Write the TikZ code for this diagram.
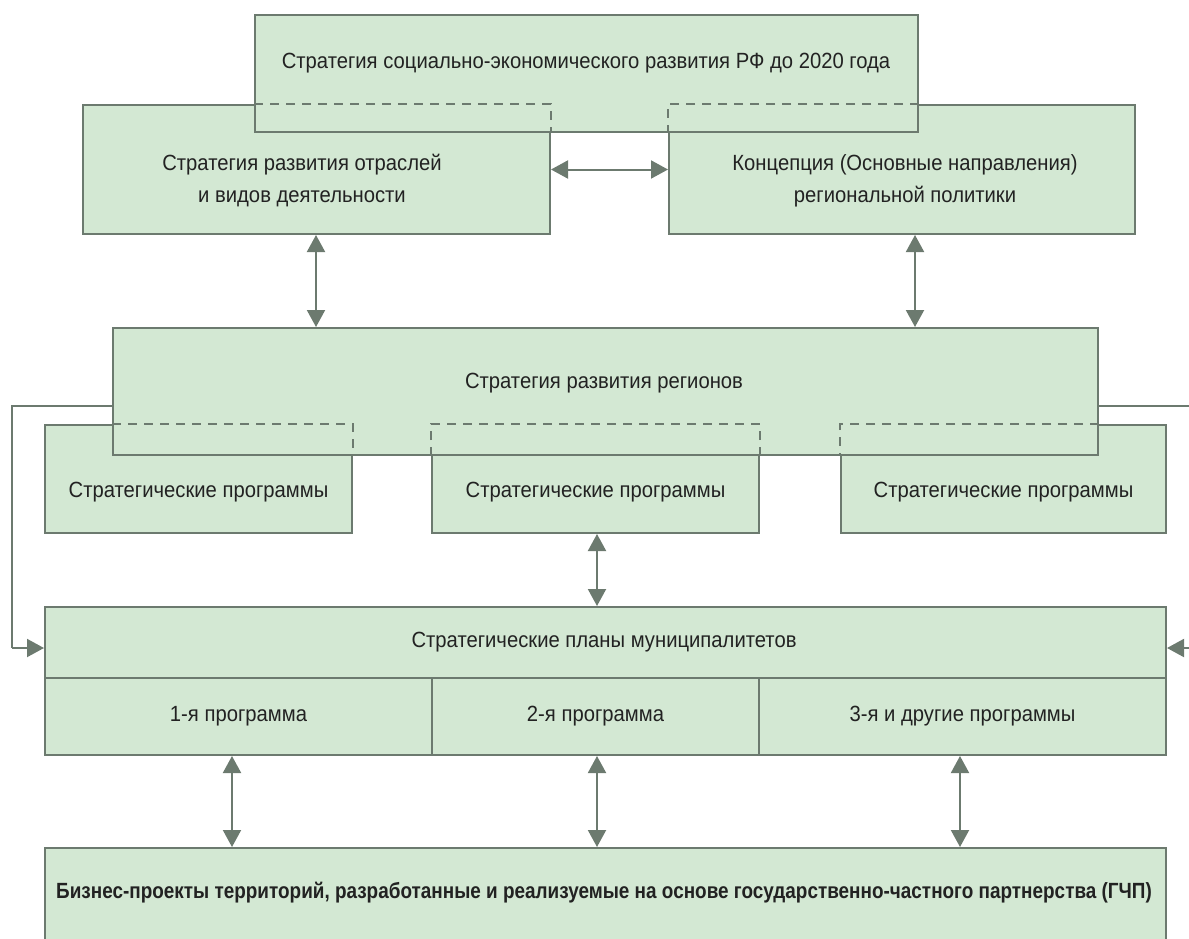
\documentclass[tikz,border=0pt]{standalone}
\usepackage{fontspec}
\setmainfont{Liberation Sans}[FakeStretch=0.92]
\newfontfamily\bcond{Liberation Sans}[FakeStretch=0.86]
\usetikzlibrary{arrows.meta}
\definecolor{boxfill}{RGB}{211,232,211}
\definecolor{boxline}{RGB}{108,122,111}
\definecolor{txt}{RGB}{34,34,34}
\begin{document}
\begin{tikzpicture}[x=1pt,y=-1pt,
  box/.style={draw=boxline, fill=boxfill, line width=2pt, inner sep=0pt, anchor=north west},
  lbl/.style={text=txt, inner sep=0pt, font=\fontsize{22}{32}\selectfont, align=center},
  blbl/.style={text=txt, inner sep=0pt, font=\bcond\bfseries\fontsize{22}{32}\selectfont},
  dsh/.style={draw=boxline, line width=2pt, dash pattern=on 9pt off 7pt},
  conn/.style={draw=boxline, line width=2pt},
  arr/.style={draw=boxline, line width=2pt, {Triangle[width=18pt,length=17pt]}-{Triangle[width=18pt,length=17pt]}},
  arr1/.style={draw=boxline, line width=2pt, -{Triangle[width=18pt,length=17pt]}}]
\useasboundingbox (0,0) rectangle (1189,938);
\clip (0,0) rectangle (1189,938);

% top level
\node[box, minimum width=467pt, minimum height=129pt] (lbox) at (82,104) {};
\node[box, minimum width=466pt, minimum height=129pt] (rbox) at (668,104) {};
\node[box, minimum width=663pt, minimum height=117pt] (top) at (254,14) {};
\draw[dsh] (top.west |- lbox.north) -- (lbox.north east) -- (lbox.east |- top.south);
\draw[dsh] (top.east |- rbox.north) -- (rbox.north west) -- (rbox.west |- top.south);

% regions
\node[box, minimum width=307pt, minimum height=108pt] (spl) at (44,424) {};
\node[box, minimum width=327pt, minimum height=108pt] (spm) at (431,424) {};
\node[box, minimum width=325pt, minimum height=108pt] (spr) at (840,424) {};
\node[box, minimum width=985pt, minimum height=127pt] (reg) at (112,327) {};
\draw[dsh] (reg.west |- spl.north) -- (spl.north east) -- (spl.east |- reg.south);
\draw[dsh] (spm.west |- reg.south) -- (spm.north west) -- (spm.north east) -- (spm.east |- reg.south);
\draw[dsh] (reg.east |- spr.north) -- (spr.north west) -- (spr.west |- reg.south);

% municipal
\node[box, minimum width=1121pt, minimum height=71pt] (mun) at (44,606) {};
\node[box, minimum width=387pt, minimum height=77pt] (p1) at (44,677) {};
\node[box, minimum width=327pt, minimum height=77pt] (p2) at (431,677) {};
\node[box, minimum width=407pt, minimum height=77pt] (p3) at (758,677) {};

% business
\node[box, minimum width=1121pt, minimum height=130pt] (biz) at (44,847) {};

% texts
\node[lbl] (topt) at (586,63) {Стратегия социально-экономического развития РФ до 2020 года};
\node[lbl] (lboxt) at (302,181) {Стратегия развития отраслей\\и видов деятельности};
\node[lbl] (rboxt) at (905,181) {Концепция (Основные направления)\\региональной политики};
\node[lbl] (regt) at (604,383) {Стратегия развития регионов};
\node[lbl] (splt) at (spl.center |- 0,492) {Стратегические программы};
\node[lbl] (spmt) at (spm.center |- 0,492) {Стратегические программы};
\node[lbl] (sprt) at (spr.center |- 0,492) {Стратегические программы};
\node[lbl] (munt) at (604,642) {Стратегические планы муниципалитетов};
\node[lbl] (p1t) at (p1.center |- 0,716) {1-я программа};
\node[lbl] (p2t) at (p2.center |- 0,716) {2-я программа};
\node[lbl] (p3t) at (p3.center |- 0,716) {3-я и другие программы};
\node[blbl] (bizt) at (604,893) {Бизнес-проекты территорий, разработанные и реализуемые на основе государственно-частного партнерства (ГЧП)};

% connectors
\draw[arr] (lbox.east) -- (rbox.west);
\draw[arr] (lbox.south -| 316,0) -- (reg.north -| 316,0);
\draw[arr] (rbox.south -| 915,0) -- (reg.north -| 915,0);
\draw[arr] (spm.south -| 597,0) -- (mun.north -| 597,0);
\draw[arr] (p1.south -| 232,0) -- (biz.north -| 232,0);
\draw[arr] (p2.south -| 597,0) -- (biz.north -| 597,0);
\draw[arr] (p3.south -| 960,0) -- (biz.north -| 960,0);

\coordinate (lc) at (12,406);
\coordinate (lc2) at (12,648);
\coordinate (rc) at (1189,406);
\coordinate (rc2) at (1189,648);
\draw[conn] (reg.west |- lc) -- (lc) -- (lc2);
\draw[arr1] (lc2) -- (mun.west |- lc2);
\draw[conn] (reg.east |- rc) -- (rc);
\draw[arr1] (rc2) -- (mun.east |- rc2);
\end{tikzpicture}
\end{document}
